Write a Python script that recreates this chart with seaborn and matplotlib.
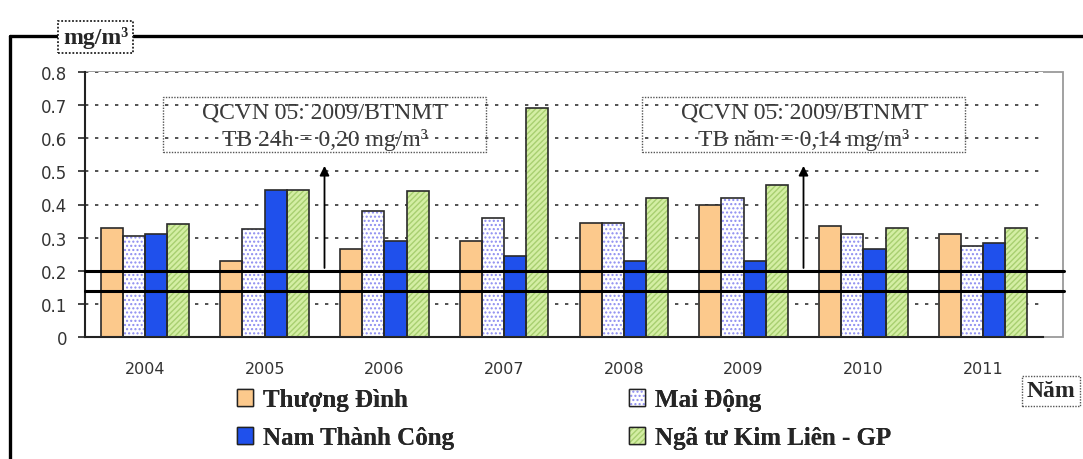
import matplotlib
matplotlib.use("Agg")
import matplotlib.pyplot as plt
import numpy as np
import pandas as pd
import seaborn as sns
from matplotlib.patches import Patch, Rectangle
from matplotlib.lines import Line2D

# Dữ liệu (mg/m3)
years = ["2004", "2005", "2006", "2007", "2008", "2009", "2010", "2011"]
stations = ["Thượng Đình", "Mai Động", "Nam Thành Công", "Ngã tư Kim Liên - GP"]
thuong_dinh = [0.33, 0.23, 0.265, 0.29, 0.345, 0.40, 0.335, 0.31]
mai_dong = [0.305, 0.325, 0.38, 0.36, 0.345, 0.42, 0.31, 0.275]
nam_thanh_cong = [0.31, 0.445, 0.29, 0.245, 0.23, 0.23, 0.265, 0.285]
nga_tu = [0.34, 0.445, 0.44, 0.69, 0.42, 0.46, 0.33, 0.33]

limit_24h = 0.20
limit_nam = 0.14
note_title = "QCVN 05: 2009/BTNMT"
note_lines = ["TB 24h = 0,20 mg/m³", "TB năm = 0,14 mg/m³"]
note_pos = [1.5, 5.5]

colors = ["#fcc98c", "#ffffff", "#1f50ec", "#d4eea4"]
hatches = ["", "....", "", "//////"]
hatch_colors = ["#fcc98c", "#8c8cf0", "#1f50ec", "#a8cf70"]

rows = []
for name, vals in zip(stations, [thuong_dinh, mai_dong, nam_thanh_cong, nga_tu]):
    for y, v in zip(years, vals):
        rows.append({"Năm": y, "Trạm": name, "Giá trị": v})
df = pd.DataFrame(rows)

sns.set_style("white")
plt.rcParams["font.family"] = ["DejaVu Sans"]
plt.rcParams["hatch.linewidth"] = 1.0

W, H = 1083, 460
fig = plt.figure(figsize=(W / 100, H / 100), dpi=100)
ax = fig.add_axes([85 / W, 1 - 338 / H, 958 / W, 265 / H])

sns.barplot(data=df, x="Năm", y="Giá trị", hue="Trạm", hue_order=stations,
            palette=colors, saturation=1, width=0.74, ax=ax, legend=False)

# hatch + viền cột
n = len(years)
for i, p in enumerate(ax.patches[:n * len(stations)]):
    k = i // n
    p.set_hatch(hatches[k])
    p.set_edgecolor(hatch_colors[k])
    p.set_linewidth(0)
    p.set_zorder(2)
    ax.add_patch(Rectangle(p.get_xy(), p.get_width(), p.get_height(), fill=False,
                           edgecolor="#2a2a2a", linewidth=1.2, zorder=3))

ax.set_xlim(-0.5, 7.5)
ax.set_ylim(0, 0.8)
ax.set_yticks(np.arange(0, 0.81, 0.1))
ax.set_yticklabels(["0", "0.1", "0.2", "0.3", "0.4", "0.5", "0.6", "0.7", "0.8"], fontsize=12, color="#333")
ax.set_xticks(np.arange(-0.5, 8, 1), minor=False)
ax.set_xticklabels([])
ax.set_xticks(np.arange(0, 8), minor=True)
ax.set_xticklabels(years, minor=True, fontsize=11.5, color="#333")
ax.tick_params(axis="x", which="minor", length=0, pad=17)
ax.tick_params(axis="x", which="major", direction="out", length=5, width=1.2)
ax.tick_params(axis="y", direction="out", length=5, width=1.2, left=True, pad=8)
ax.set_xlabel("")
ax.set_ylabel("")

ax.yaxis.grid(True, linestyle=(0, (2, 4)), color="#333333", linewidth=1.2, zorder=0)
ax.set_axisbelow(True)
for s in ["left", "bottom"]:
    ax.spines[s].set_color("#222222")
    ax.spines[s].set_linewidth(1.5)
for s in ["top", "right"]:
    ax.spines[s].set_visible(False)

# khung vùng vẽ (xám)
fig.add_artist(Rectangle((85 / W, 1 - 338 / H), 978 / W, 265 / H, transform=fig.transFigure,
                         fill=False, edgecolor="#9a9a9a", linewidth=1.3, zorder=0))

# đường giới hạn
for lim in [limit_24h, limit_nam]:
    ax.axhline(lim, xmin=0, xmax=1.022, color="black", linewidth=2.2, clip_on=False, zorder=5)

# mũi tên + chú thích
for xpos, line2 in zip(note_pos, note_lines):
    ax.annotate("", xy=(xpos, 0.525), xytext=(xpos, limit_24h),
                arrowprops=dict(arrowstyle="-|>", color="black", lw=1.3, mutation_scale=14), zorder=6)
    ax.add_patch(Rectangle((xpos - 1.35, 0.5585), 2.7, 0.166, fill=False, edgecolor="#555555",
                           linestyle=(0, (1, 1)), linewidth=1.0, zorder=6))
    ax.text(xpos, 0.678, note_title, ha="center", va="center", fontsize=17,
            family=["Liberation Serif"], color="#3a3a3a", zorder=7)
    ax.text(xpos, 0.598, line2, ha="center", va="center", fontsize=17,
            family=["Liberation Serif"], color="#3a3a3a", zorder=7)

# khung ngoài
fig.add_artist(Line2D([10 / W, 1.0], [1 - 37 / H, 1 - 37 / H], color="black", linewidth=2.4))
fig.add_artist(Line2D([10 / W, 10 / W], [0.0, 1 - 37 / H], color="black", linewidth=2.4))

fig.text(95.5 / W, 1 - 38 / H, "mg/m³", ha="center", va="center", fontsize=17, fontweight="bold",
         family=["Liberation Serif"],
         bbox=dict(boxstyle="square,pad=0.2", facecolor="white", edgecolor="#222222",
                   linestyle=(0, (1, 1)), linewidth=1.3))
fig.text(1027 / W, 1 - 392 / H, "Năm", ha="left", va="center", fontsize=17, fontweight="bold",
         family=["Liberation Serif"],
         bbox=dict(boxstyle="square,pad=0.2", facecolor="white", edgecolor="#555555",
                   linestyle=(0, (1, 1)), linewidth=1.0))

# chú giải: 2 cột
def make_handle(k):
    return (Patch(facecolor=colors[k], hatch=hatches[k], edgecolor=hatch_colors[k], linewidth=0),
            Patch(facecolor="none", edgecolor="#222222", linewidth=1.0))

leg_font = {"family": "Liberation Serif", "weight": "bold", "size": 18}
for cols, x0 in [([0, 2], 237), ([1, 3], 629)]:
    leg = fig.legend([make_handle(k) for k in cols], [stations[k] for k in cols],
                     loc="upper left", bbox_to_anchor=(x0 / W, 1 - 389 / H), frameon=False,
                     borderpad=0, borderaxespad=0, handlelength=0.65, handleheight=0.65,
                     handletextpad=0.4, labelspacing=0.6, prop=leg_font)
    fig.add_artist(leg)

fig.savefig("out.png", dpi=100)
